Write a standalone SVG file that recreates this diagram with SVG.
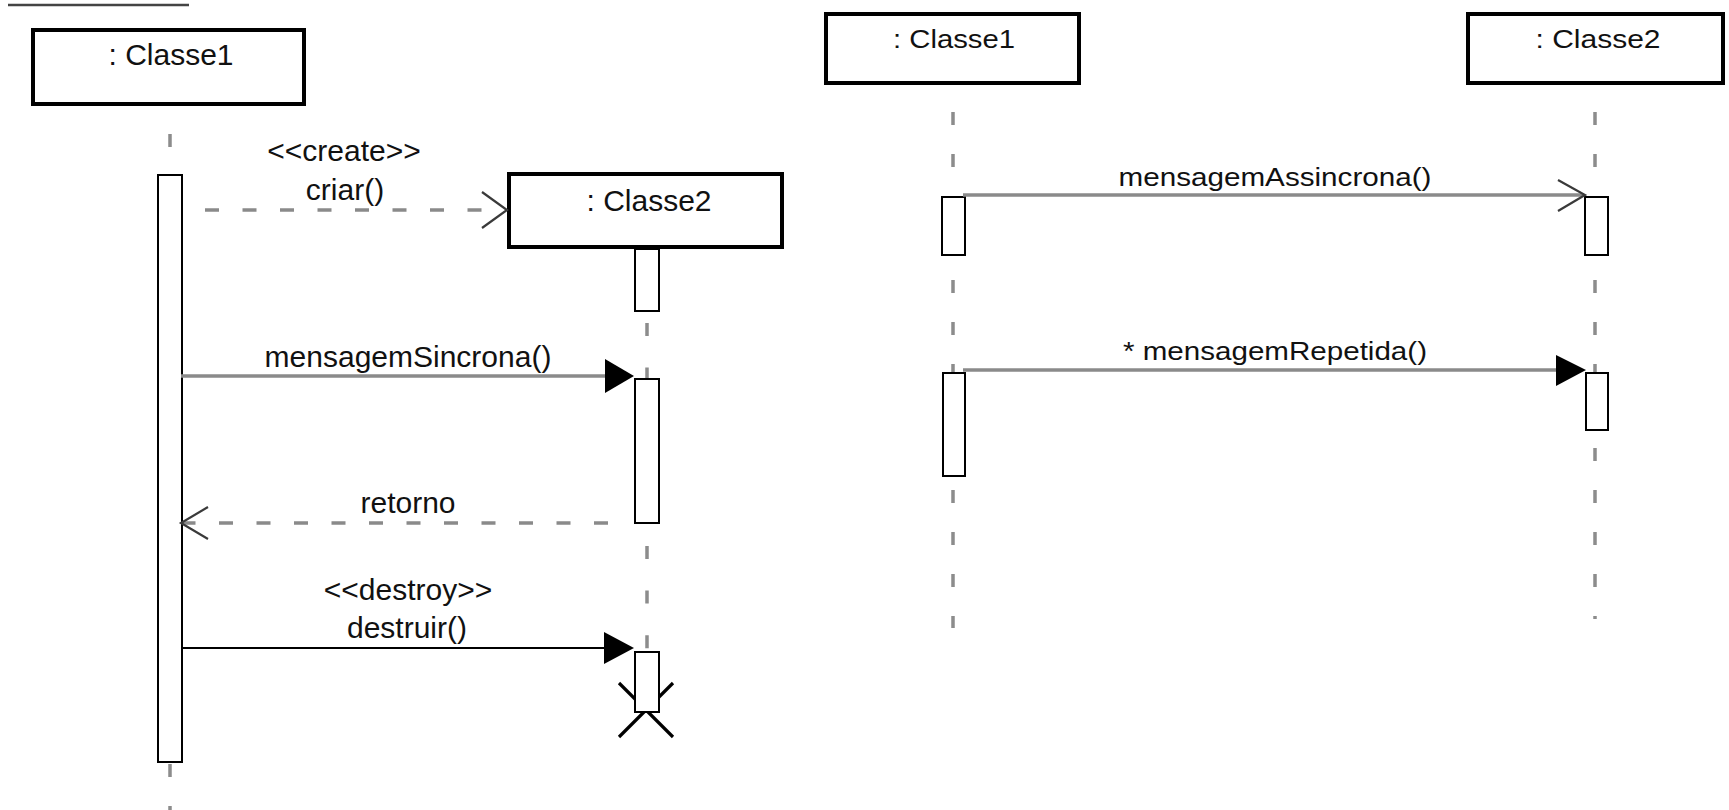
<svg xmlns="http://www.w3.org/2000/svg" width="1729" height="810" viewBox="0 0 1729 810">
  <style>
    .obj { fill: #ffffff; stroke: #000000; stroke-width: 4; }
    .act { fill: #ffffff; stroke: #000000; stroke-width: 2; }
    .life { fill: none; stroke: #8c8c8c; stroke-width: 3.5; }
    .msg { fill: none; stroke: #8a8a8a; stroke-width: 3.5; }
    .msgdash { fill: none; stroke: #8a8a8a; stroke-width: 3.5; stroke-dasharray: 14 23.5; }
    .solid { fill: none; stroke: #000000; stroke-width: 2; }
    .open { fill: none; stroke: #3a3a3a; stroke-width: 2.2; stroke-linejoin: miter; }
    .filled { fill: #000000; stroke: none; }
    .cross { stroke: #000000; stroke-width: 3.2; }
    text { font-family: "Liberation Sans", Arial, sans-serif; fill: #111111; }
    .lbl { font-size: 30px; text-anchor: middle; }
    .lblr { font-size: 25px; text-anchor: middle; }
  </style>

  <rect x="0" y="0" width="1729" height="810" fill="#ffffff"/>

  <!-- frame edge at the top-left -->
  <line x1="8" y1="5" x2="189" y2="5" stroke="#444444" stroke-width="2.5"/>

  <!-- lifelines -->
  <g id="lifelines">
    <line class="life" x1="170" y1="134" x2="170" y2="810" stroke-dasharray="13 29"/>
    <line class="life" x1="647" y1="323" x2="647" y2="650" stroke-dasharray="13 31.6"/>
    <line class="life" x1="953" y1="112" x2="953" y2="628" stroke-dasharray="13 29"/>
    <line class="life" x1="1595" y1="112" x2="1595" y2="619" stroke-dasharray="13 29"/>
  </g>

  <!-- left diagram: creation, synchronous call, return, destruction -->
  <g id="left-classe1">
    <rect class="obj" x="33" y="30" width="271" height="74"/>
    <text class="lbl" x="171" y="65">: Classe1</text>
    <rect class="act" x="158" y="175" width="24" height="587"/>
  </g>

  <g id="left-classe2">
    <line class="cross" x1="619" y1="683" x2="673" y2="737"/>
    <line class="cross" x1="673" y1="683" x2="619" y2="737"/>
    <rect class="act" x="635" y="249" width="24" height="62"/>
    <rect class="act" x="635" y="379" width="24" height="144"/>
    <rect class="act" x="635" y="652" width="24" height="60"/>
    <rect class="obj" x="509" y="174" width="273" height="73"/>
    <text class="lbl" x="649" y="211">: Classe2</text>
  </g>

  <!-- right diagram: asynchronous and repeated messages -->
  <g id="right-classe1">
    <rect class="obj" x="826" y="14" width="253" height="69"/>
    <text class="lblr" x="954" y="48" textLength="122" lengthAdjust="spacingAndGlyphs">: Classe1</text>
    <rect class="act" x="942" y="197" width="23" height="58"/>
    <rect class="act" x="943" y="373" width="22" height="103"/>
  </g>

  <g id="right-classe2">
    <rect class="obj" x="1468" y="14" width="255" height="69"/>
    <text class="lblr" x="1598" y="48" textLength="125" lengthAdjust="spacingAndGlyphs">: Classe2</text>
    <rect class="act" x="1585" y="197" width="23" height="58"/>
    <rect class="act" x="1586" y="373" width="22" height="57"/>
  </g>

  <g id="connectors">
    <!-- <<create>> criar() -->
    <line class="msgdash" x1="205" y1="210" x2="505" y2="210"/>
    <polyline class="open" points="482,192 507,210 482,228"/>
    <text class="lbl" x="344" y="161">&lt;&lt;create&gt;&gt;</text>
    <text class="lbl" x="345" y="200">criar()</text>

    <!-- mensagemSincrona() -->
    <line class="msg" x1="181" y1="376" x2="607" y2="376"/>
    <polygon class="filled" points="605,359 634,376 605,393"/>
    <text class="lbl" x="408" y="367">mensagemSincrona()</text>

    <!-- retorno -->
    <line class="msgdash" x1="608" y1="523" x2="183" y2="523"/>
    <polyline class="open" points="208,507 181,523 208,539"/>
    <text class="lbl" x="408" y="513">retorno</text>

    <!-- <<destroy>> destruir() -->
    <line class="solid" x1="181" y1="648" x2="606" y2="648"/>
    <polygon class="filled" points="604,632 634,648 604,664"/>
    <text class="lbl" x="408" y="600">&lt;&lt;destroy&gt;&gt;</text>
    <text class="lbl" x="407" y="638">destruir()</text>

    <!-- mensagemAssincrona() -->
    <line class="msg" x1="963" y1="195" x2="1584" y2="195"/>
    <polyline class="open" points="1558,180 1585,195 1558,211"/>
    <text class="lblr" x="1275" y="186" textLength="313" lengthAdjust="spacingAndGlyphs">mensagemAssincrona()</text>

    <!-- * mensagemRepetida() -->
    <line class="msg" x1="963" y1="370" x2="1558" y2="370"/>
    <polygon class="filled" points="1556,355 1586,370 1556,386"/>
    <text class="lblr" x="1275" y="360" textLength="304" lengthAdjust="spacingAndGlyphs">* mensagemRepetida()</text>
  </g>
</svg>
